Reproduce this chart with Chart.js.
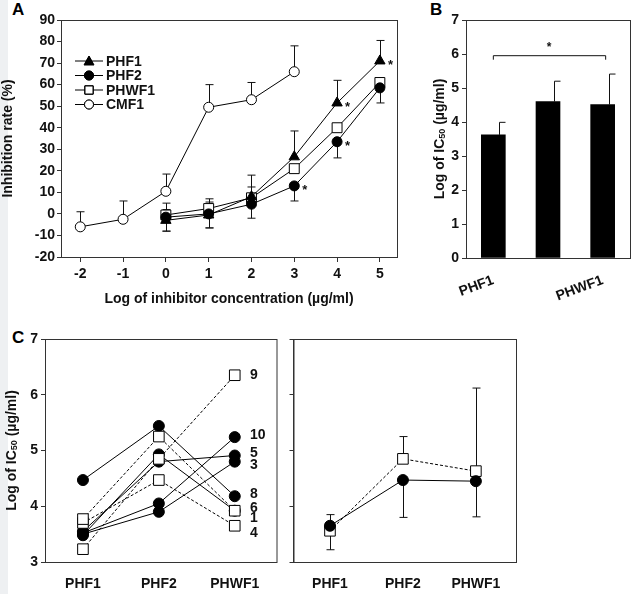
<!DOCTYPE html>
<html><head><meta charset="utf-8">
<script src="https://cdn.jsdelivr.net/npm/chart.js@4"></script>
<style>
body{margin:0;background:#fff;font-family:"Liberation Sans",Arial,sans-serif;}
.c{position:absolute;}
.lbl{position:absolute;font-weight:bold;font-size:17px;}
#strip{position:absolute;left:0;top:0;width:8px;height:594px;background:#eef0f2;}
</style></head><body>
<div id="strip"></div>
<div class="lbl" style="left:12px;top:0px">A</div>
<div class="lbl" style="left:430px;top:0px">B</div>
<div class="lbl" style="left:12px;top:328px">C</div>
<div class="c" style="left:0;top:0;width:405px;height:310px"><canvas id="ca"></canvas></div>
<div class="c" style="left:410px;top:0;width:227px;height:310px"><canvas id="cb"></canvas></div>
<div class="c" style="left:0;top:320px;width:285px;height:274px"><canvas id="cc1"></canvas></div>
<div class="c" style="left:285px;top:320px;width:240px;height:274px"><canvas id="cc2"></canvas></div>
<script>
// Panel A: inhibition rate vs log concentration
const concCMF = [-2, -1, 0, 1, 2, 3];
const concPH = [0, 1, 2, 3, 4, 5];
const cmf1 = [-6, -2.5, 10.5, 49.5, 53, 66];
const cmf1Err = [7, 8.5, 8, 10.5, 8, 12];
const phf1 = [-3, -0.5, 8, 26.5, 51.5, 71];
const phf1Err = [5, 6, 10, 12, 10.5, 9.5];
const phf2 = [-1.5, 0, 4.5, 13, 33.5, 58.5];
const phf2Err = [6.5, 6.5, 6.5, 7, 7.5, 7];
const phwf1 = [-0.5, 2.5, 7.5, 21, 40, 61];
const phwf1Err = [5.5, 4.5, 5, 5, 6, 5];
const starsA = [[5, 71], [4, 51.5], [4, 33.5], [3, 13]];

// Panel B: mean log IC50
const groups = ['PHF1', 'PHF2', 'PHWF1'];
const meanIC50 = [3.62, 4.6, 4.51];
const sdIC50 = [0.37, 0.6, 0.9];

// Panel C: individual log IC50 (circles solid, squares dashed)
const indivCircles = [
  [4.47, 5.44, 4.18],
  [3.50, 3.90, 4.80],
  [3.52, 4.05, 5.24],
  [3.55, 4.80, 4.91],
  [3.48, 4.93, 3.92]
];
const indivSquares = [
  [3.23, 4.85, 6.35],
  [3.77, 5.25, 3.92],
  [3.70, 4.47, 3.65]
];
const subjectLabels = ['9', '10', '5', '3', '8', '6', '1', '4'];
const subjectLabelY = [6.35, 5.27, 4.96, 4.74, 4.22, 3.96, 3.78, 3.52];
const meanCircle = [3.65, 4.47, 4.45];
const meanCircleErrDown = [0, 0.67, 0.64];
const meanCircleErrUp = [0.2, 0, 0];
const meanSquare = [3.56, 4.85, 4.63];
const meanSquareErrDown = [0.34, 0, 0];
const meanSquareErrUp = [0, 0.4, 1.49];

const FONT = '"Liberation Sans", Arial, sans-serif';
Chart.defaults.font.family = FONT;
Chart.defaults.font.weight = 'bold';
Chart.defaults.color = '#111';
Chart.defaults.animation = false;
Chart.defaults.responsive = true;
Chart.defaults.maintainAspectRatio = false;
Chart.defaults.devicePixelRatio = 1;

const boxPlugin = {
  id: 'box',
  afterDraw(c) {
    const a = c.chartArea, ctx = c.ctx;
    ctx.save(); ctx.strokeStyle = '#333'; ctx.lineWidth = 1;
    ctx.strokeRect(a.left + 0.5, a.top + 0.5, a.right - a.left, a.bottom - a.top);
    ctx.restore();
  }
};

// error bars: dataset.errUp / errDown arrays
const errPlugin = {
  id: 'err',
  beforeDatasetsDraw(c) {
    const ctx = c.ctx, ys = c.scales.y;
    ctx.save(); ctx.strokeStyle = '#111'; ctx.lineWidth = 1;
    c.data.datasets.forEach((ds, i) => {
      if (!ds.errUp && !ds.errDown) return;
      c.getDatasetMeta(i).data.forEach((el, j) => {
        const v = typeof ds.data[j] === 'object' ? ds.data[j].y : ds.data[j];
        [[ds.errUp, 1], [ds.errDown, -1]].forEach(([arr, s]) => {
          if (!arr || !arr[j]) return;
          const py = ys.getPixelForValue(v + s * arr[j]);
          const px = Math.round(el.x) + 0.5;
          ctx.beginPath(); ctx.moveTo(px, el.y); ctx.lineTo(px, py);
          ctx.moveTo(px - 4, py); ctx.lineTo(px + 4, py); ctx.stroke();
        });
      });
    });
    ctx.restore();
  }
};

const fixTicks = vals => s => { s.ticks = vals.map(v => ({ value: v })); };
const tickFont = { size: 14, weight: 'bold' };
const xy = (xs, ys) => xs.map((x, i) => ({ x, y: ys[i] }));
const pt = (style, fill) => ({ pointStyle: style, pointRadius: style === 'rect' ? 7 : 5, pointBackgroundColor: fill, pointBorderColor: '#000', pointBorderWidth: 1, borderColor: '#000', borderWidth: 1, showLine: true });

// Panel A
new Chart(document.getElementById('ca'), {
  type: 'scatter',
  data: { datasets: [
    { label: 'PHF1', data: xy(concPH, phf1), errUp: phf1Err, errDown: [phf1Err[0], phf1Err[1]], ...pt('triangle', '#000'), pointRadius: 6 },
    { label: 'PHF2', data: xy(concPH, phf2), errDown: phf2Err, ...pt('circle', '#000') },
    { label: 'PHWF1', data: xy(concPH, phwf1), errUp: phwf1Err.slice(0, 3), ...pt('rect', '#fff') },
    { label: 'CMF1', data: xy(concCMF, cmf1), errUp: cmf1Err, ...pt('circle', '#fff') }
  ] },
  options: {
    layout: { padding: { top: 20, right: 5 } },
    plugins: { tooltip: { enabled: false }, legend: { display: false } },
    scales: {
      x: { type: 'linear', min: -2.45, max: 5.4, afterBuildTicks: fixTicks([-2, -1, 0, 1, 2, 3, 4, 5]),
        afterFit: s => { s.height = 53; },
        grid: { drawOnChartArea: false, tickLength: 5, color: '#333' }, border: { color: '#333' },
        ticks: { font: tickFont, padding: 4 },
        title: { display: true, text: 'Log of inhibitor concentration (µg/ml)', font: { size: 14, weight: 'bold' }, padding: 2 } },
      y: { min: -20, max: 90, afterBuildTicks: fixTicks([-20, -10, 0, 10, 20, 30, 40, 50, 60, 70, 80, 90]),
        afterFit: s => { s.width = 61; },
        grid: { drawOnChartArea: false, tickLength: 4, color: '#333' }, border: { color: '#333' },
        ticks: { font: tickFont, padding: 2 },
        title: { display: true, text: 'Inhibition rate (%)', font: { size: 14, weight: 'bold' }, padding: 0 } }
    }
  },
  plugins: [boxPlugin, errPlugin, {
    id: 'starsLegend',
    afterDraw(c) {
      const ctx = c.ctx, a = c.chartArea;
      ctx.save(); ctx.font = 'bold 13px ' + FONT; ctx.fillStyle = '#111';
      starsA.forEach(([x, y]) => {
        ctx.fillText('*', c.scales.x.getPixelForValue(x) + 8, c.scales.y.getPixelForValue(y) + 8);
      });
      // legend
      ctx.font = 'bold 14px ' + FONT; ctx.textBaseline = 'middle';
      c.data.datasets.forEach((ds, i) => {
        const y = a.top + 41 + i * 14.5, x0 = a.left + 14;
        ctx.strokeStyle = '#000'; ctx.lineWidth = 1;
        ctx.beginPath(); ctx.moveTo(x0, y); ctx.lineTo(x0 + 28, y); ctx.stroke();
        Chart.helpers.drawPoint(ctx, { pointStyle: ds.pointStyle, radius: ds.pointStyle === 'rect' ? 6 : 4.5, borderWidth: 1 }, x0 + 14, y);
        ctx.fillStyle = ds.pointBackgroundColor; ctx.strokeStyle = '#000';
        ctx.beginPath();
        if (ds.pointStyle === 'circle') ctx.arc(x0 + 14, y, 4.5, 0, 7);
        else if (ds.pointStyle === 'rect') ctx.rect(x0 + 10, y - 4, 8, 8);
        else { ctx.moveTo(x0 + 14, y - 5); ctx.lineTo(x0 + 19, y + 4); ctx.lineTo(x0 + 9, y + 4); ctx.closePath(); }
        ctx.fill(); ctx.stroke();
        ctx.fillStyle = '#111';
        ctx.fillText(ds.label, x0 + 31, y + 1);
      });
      ctx.restore();
    }
  }]
});

function ic50Title(c, x, y) {
  const ctx = c.ctx;
  ctx.save(); ctx.translate(x, y); ctx.rotate(-Math.PI / 2);
  ctx.fillStyle = '#111'; ctx.textBaseline = 'middle';
  const parts = [['Log of IC', 14, 0], ['50', 9, 3], [' (µg/ml)', 14, 0]];
  let w = 0;
  parts.forEach(([t, s]) => { ctx.font = 'bold ' + s + 'px ' + FONT; w += ctx.measureText(t).width; });
  let px = -w / 2;
  parts.forEach(([t, s, dy]) => { ctx.font = 'bold ' + s + 'px ' + FONT; ctx.fillText(t, px, dy); px += ctx.measureText(t).width; });
  ctx.restore();
}

// Panel B
new Chart(document.getElementById('cb'), {
  type: 'bar',
  data: { labels: groups, datasets: [{ data: meanIC50, backgroundColor: '#000', barThickness: 24 }] },
  options: {
    layout: { padding: { top: 20, right: 7 } },
    plugins: { legend: { display: false }, tooltip: { enabled: false } },
    scales: {
      x: { afterFit: s => { s.height = 52; }, grid: { display: false }, border: { color: '#333' }, ticks: { font: tickFont, padding: 6 } },
      y: { min: 0, max: 7, afterBuildTicks: fixTicks([0, 1, 2, 3, 4, 5, 6, 7]), afterFit: s => { s.width = 56; },
        grid: { drawOnChartArea: false, tickLength: 4, color: '#333' }, border: { color: '#333' }, ticks: { font: tickFont, padding: 3 } }
    }
  },
  plugins: [boxPlugin, {
    id: 'errB',
    afterDatasetsDraw(c) {
      const ctx = c.ctx, ys = c.scales.y, bars = c.getDatasetMeta(0).data;
      ctx.save(); ctx.strokeStyle = '#111'; ctx.lineWidth = 1;
      bars.forEach((b, j) => {
        const py = ys.getPixelForValue(meanIC50[j] + sdIC50[j]);
        const px = Math.round(b.x + 6) + 0.5;
        ctx.beginPath(); ctx.moveTo(px, b.y); ctx.lineTo(px, py); ctx.moveTo(px, py); ctx.lineTo(px + 6, py); ctx.stroke();
      });
      const by = ys.getPixelForValue(5.95);
      ctx.beginPath(); ctx.moveTo(bars[0].x, by + 4); ctx.lineTo(bars[0].x, by); ctx.lineTo(bars[2].x + 3, by); ctx.lineTo(bars[2].x + 3, by + 4); ctx.stroke();
      ctx.font = 'bold 12px ' + FONT; ctx.fillStyle = '#111'; ctx.textAlign = 'center';
      ctx.fillText('*', (bars[0].x + bars[2].x) / 2 + 1, by - 5);
      ctx.restore();
      ic50Title(c, 30, (c.chartArea.top + c.chartArea.bottom) / 2);
    }
  }]
});

// Panel C
const catX = [0, 1, 2];
const catTicks = { font: tickFont, padding: 6, callback: v => groups[v] };
const cScales = (yw, showY) => ({
  x: { type: 'linear', min: -0.5, max: 2.55, afterBuildTicks: fixTicks(catX), afterFit: s => { s.height = 32; },
    grid: { display: false }, border: { color: '#333' }, ticks: catTicks },
  y: { min: 3, max: 7, afterBuildTicks: fixTicks([3, 4, 5, 6, 7]), afterFit: s => { s.width = yw; },
    grid: { drawOnChartArea: false, tickLength: 4, color: '#333' }, border: { color: '#333' },
    ticks: { display: showY, font: tickFont, padding: 3 } }
});
const circleSet = (d) => ({ data: xy(catX, d), ...pt('circle', '#000'), pointRadius: 5.5 });
const squareSet = (d) => ({ data: xy(catX, d), ...pt('rect', '#fff'), pointRadius: 7.5, borderDash: [3, 2] });

new Chart(document.getElementById('cc1'), {
  type: 'scatter',
  data: { datasets: [...indivSquares.map(squareSet), ...indivCircles.map(circleSet)] },
  options: {
    layout: { padding: { top: 19, right: 6 } },
    plugins: { legend: { display: false }, tooltip: { enabled: false } },
    scales: cScales(45, true)
  },
  plugins: [boxPlugin, {
    id: 'subj',
    afterDraw(c) {
      const ctx = c.ctx;
      ctx.save(); ctx.font = 'bold 14px ' + FONT; ctx.fillStyle = '#111'; ctx.textBaseline = 'middle';
      subjectLabels.forEach((t, i) => ctx.fillText(t, c.scales.x.getPixelForValue(2.2), c.scales.y.getPixelForValue(subjectLabelY[i])));
      ctx.restore();
      ic50Title(c, 12, (c.chartArea.top + c.chartArea.bottom) / 2);
    }
  }]
});

new Chart(document.getElementById('cc2'), {
  type: 'scatter',
  data: { datasets: [
    { ...circleSet(meanCircle), errUp: meanCircleErrUp, errDown: meanCircleErrDown },
    { ...squareSet(meanSquare), errUp: meanSquareErrUp, errDown: meanSquareErrDown }
  ] },
  options: {
    layout: { padding: { top: 19, right: 9 } },
    plugins: { legend: { display: false }, tooltip: { enabled: false } },
    scales: cScales(7, false)
  },
  plugins: [boxPlugin, errPlugin]
});
</script>
</body></html>
